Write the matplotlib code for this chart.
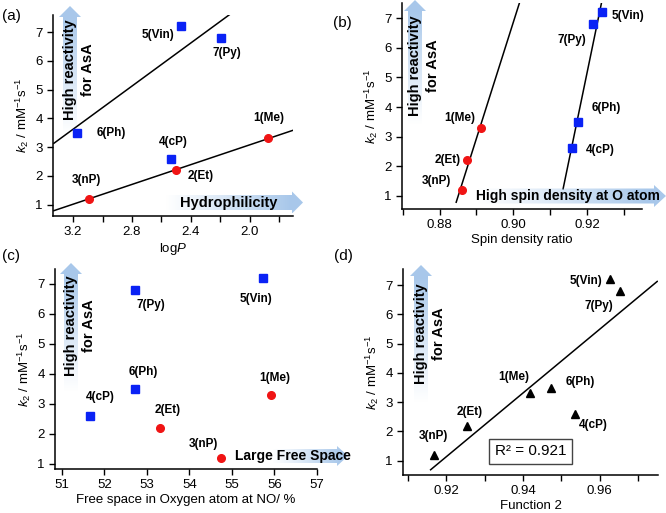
import numpy as np
import matplotlib
matplotlib.use("Agg")
import matplotlib.pyplot as plt
from matplotlib.patches import Polygon
from matplotlib.ticker import MultipleLocator

plt.rcParams['font.family'] = ['Liberation Sans', 'DejaVu Sans']
plt.rcParams['mathtext.fontset'] = 'custom'
plt.rcParams['mathtext.rm'] = 'Liberation Sans'
plt.rcParams['mathtext.it'] = 'Liberation Sans:italic'

# ---------------- data ----------------
labels = ['1(Me)', '2(Et)', '3(nP)', '4(cP)', '5(Vin)', '6(Ph)', '7(Py)']
k2 = [3.3, 2.2, 1.2, 2.6, 7.2, 3.5, 6.8]
logP = [1.875, 2.504, 3.093, 2.536, 2.464, 3.173, 2.197]
spin_ratio = [0.8911, 0.8874, 0.8861, 0.9159, 0.9241, 0.9175, 0.9216]
free_space = [55.91, 53.30, 54.74, 51.67, 55.72, 52.71, 52.71]
function2 = [0.9419, 0.9255, 0.9169, 0.9536, 0.9626, 0.9474, 0.9652]
red_idx = [0, 1, 2]
blue_idx = [3, 4, 5, 6]
r2_text = 'R² = 0.921'

BLUE = '#0a22f5'
RED = '#f01414'

W, H = 666, 513
fig = plt.figure(figsize=(W / 100, H / 100), dpi=100)


def px_axes(l, r, t, b):
    return fig.add_axes([l / W, 1 - b / H, (r - l) / W, (b - t) / H])


def style(ax):
    for s in ['top', 'right']:
        ax.spines[s].set_visible(False)
    for s in ['left', 'bottom']:
        ax.spines[s].set_linewidth(1.1)
    ax.tick_params(axis='both', which='both', direction='out', labelsize=9.5,
                   width=1.0, length=4)
    ax.tick_params(axis='x', which='minor', length=4)
    ax.yaxis.set_major_locator(MultipleLocator(1))
    ax.set_ylabel(r'$k_2$ / mM$^{-1}$s$^{-1}$', fontsize=9.5, labelpad=3)


def label_points(ax, xs, offsets):
    for i, lab in enumerate(labels):
        dx, dy = offsets[lab]
        ax.annotate(lab, (xs[i], k2[i]), xytext=(dx / 1.389, -dy / 1.389),
                    textcoords='offset points', ha='center', va='center',
                    fontsize=8.5, fontweight='bold')


def scatter_rb(ax, xs):
    ax.plot([xs[i] for i in blue_idx], [k2[i] for i in blue_idx], 's',
            color=BLUE, ms=5.5, zorder=5, clip_on=False)
    ax.plot([xs[i] for i in red_idx], [k2[i] for i in red_idx], 'o',
            color=RED, ms=5.5, zorder=5, clip_on=False)


def fit_line(ax, xs, idx, xr):
    p = np.polyfit([xs[i] for i in idx], [k2[i] for i in idx], 1)
    xx = np.array(xr)
    ax.plot(xx, np.polyval(p, xx), color='black', lw=1.1, zorder=3)
    return p


# ---- (a) ----
axa = px_axes(53, 293, 15, 216)
style(axa)
axa.set_xlim(3.336, 1.707)
axa.set_ylim(0.6, 7.6)
axa.xaxis.set_major_locator(MultipleLocator(0.4))
axa.xaxis.set_minor_locator(MultipleLocator(0.2))
axa.set_xticks([3.2, 2.8, 2.4, 2.0])
axa.set_xticklabels(['3.2', '2.8', '2.4', '2.0'])
axa.set_xlabel(r'log$P$', fontsize=9.5, labelpad=2)
fit_line(axa, logP, [4, 5, 6], [3.33, 2.134])
fit_line(axa, logP, red_idx, [3.33, 1.70])
scatter_rb(axa, logP)
label_points(axa, logP, {'5(Vin)': (-23, 9), '7(Py)': (6, 15), '6(Ph)': (34, 0),
                         '4(cP)': (2, -17), '2(Et)': (25, 6), '1(Me)': (1, -20),
                         '3(nP)': (-2, -19)})

# ---- (b) ----
axb = px_axes(402, 642, 3, 209)
style(axb)
axb.set_xlim(0.8698, 0.9349)
axb.set_ylim(0.55, 7.52)
axb.xaxis.set_major_locator(MultipleLocator(0.02))
axb.xaxis.set_minor_locator(MultipleLocator(0.01))
axb.set_xticks([0.88, 0.90, 0.92])
axb.set_xticklabels(['0.88', '0.90', '0.92'])
axb.set_xlabel('Spin density ratio', fontsize=9.5, labelpad=2)
fit_line(axb, spin_ratio, red_idx, [0.8845, 0.9025])
fit_line(axb, spin_ratio, blue_idx, [0.9135, 0.9245])
scatter_rb(axb, spin_ratio)
label_points(axb, spin_ratio, {'5(Vin)': (26, 4), '7(Py)': (-21, 16), '6(Ph)': (28, -14),
                               '4(cP)': (28, 2), '1(Me)': (-21, -10), '2(Et)': (-19, 0),
                               '3(nP)': (-26, -9)})

# ---- (c) ----
axc = px_axes(55, 317, 269, 469)
style(axc)
axc.set_xlim(50.84, 57.0)
axc.set_ylim(0.83, 7.49)
axc.xaxis.set_major_locator(MultipleLocator(1))
axc.set_xlabel('Free space in Oxygen atom at NO/ %', fontsize=9.5, labelpad=2)
scatter_rb(axc, free_space)
label_points(axc, free_space, {'7(Py)': (16, 15), '5(Vin)': (-7, 21), '6(Ph)': (9, -17),
                               '4(cP)': (10, -19), '2(Et)': (8, -18), '1(Me)': (4, -17),
                               '3(nP)': (-17, -14)})

# ---- (d) ----
axd = px_axes(403, 658, 269, 475)
style(axd)
axd.set_xlim(0.9087, 0.9752)
axd.set_ylim(0.51, 7.55)
axd.xaxis.set_major_locator(MultipleLocator(0.02))
axd.xaxis.set_minor_locator(MultipleLocator(0.01))
axd.set_xticks([0.92, 0.94, 0.96])
axd.set_xticklabels(['0.92', '0.94', '0.96'])
axd.set_xlabel('Function 2', fontsize=9.5, labelpad=2)
fit_line(axd, function2, list(range(7)), [0.9159, 0.9750])
axd.plot(function2, k2, '^', color='black', ms=5.5, zorder=5)
label_points(axd, function2, {'5(Vin)': (-24, 2), '7(Py)': (-21, 15), '1(Me)': (-17, -16),
                              '6(Ph)': (29, -6), '4(cP)': (18, 11), '2(Et)': (2, -14),
                              '3(nP)': (-1, -19)})
axd.text(0.50, 0.115, r2_text, transform=axd.transAxes, ha='center', va='center',
         fontsize=11, bbox=dict(boxstyle='square,pad=0.35', fc='white', ec='#444444', lw=1.0),
         zorder=6)

# ---------------- overlay: gradient arrows, panel letters ----------------
ov = fig.add_axes([0, 0, 1, 1], zorder=10)
ov.set_xlim(0, W)
ov.set_ylim(H, 0)
ov.axis('off')
ov.patch.set_alpha(0)

ARROW_RGB = np.array([0.50, 0.68, 0.88])


def grad_arrow(x0, y0, x1, y1, body_w, head_w, head_len, amax=0.68):
    d = np.array([x1 - x0, y1 - y0], float)
    L = np.hypot(*d)
    u = d / L
    n = np.array([-u[1], u[0]])
    p0 = np.array([x0, y0], float)
    hb = p0 + u * (L - head_len)
    pts = [p0 + n * body_w / 2, hb + n * body_w / 2, hb + n * head_w / 2,
           np.array([x1, y1], float), hb - n * head_w / 2, hb - n * body_w / 2,
           p0 - n * body_w / 2]
    poly = Polygon(pts, closed=True, fc='none', ec='none')
    ov.add_patch(poly)
    xs = [p[0] for p in pts]
    ys = [p[1] for p in pts]
    xl, xr, yt, yb = min(xs), max(xs), min(ys), max(ys)
    N = 200
    t = np.linspace(0, 1, N)
    a = amax * np.clip(t * 1.1, 0, 1) ** 1.1
    if abs(u[0]) > abs(u[1]):
        img = np.zeros((1, N, 4))
        img[0, :, :3] = ARROW_RGB
        img[0, :, 3] = a if u[0] > 0 else a[::-1]
    else:
        img = np.zeros((N, 1, 4))
        img[:, 0, :3] = ARROW_RGB
        img[:, 0, 3] = a[::-1] if u[1] < 0 else a
    im = ov.imshow(img, extent=(xl, xr, yb, yt), origin='upper', aspect='auto',
                   interpolation='bilinear', zorder=1)
    im.set_clip_path(poly)


def vtext(xc, yc):
    ov.text(xc, yc, 'High reactivity\nfor AsA', rotation=90, ha='center', va='center',
            fontsize=10.5, fontweight='bold', linespacing=1.3, zorder=3)


# (a)
grad_arrow(70, 135, 70, 6, 14, 22, 11)
vtext(79, 70)
grad_arrow(165, 202.5, 303, 202.5, 15, 22, 11)
ov.text(229, 202.5, 'Hydrophilicity', ha='center', va='center', fontsize=10.5,
        fontweight='bold', zorder=3)
# (b)
grad_arrow(415, 125, 415, 0, 14, 22, 11)
vtext(424, 66)
grad_arrow(476, 196, 666, 196, 15, 22, 12)
ov.text(568, 196, 'High spin density at O atom', ha='center', va='center', fontsize=10,
        fontweight='bold', zorder=3)
# (c)
grad_arrow(71, 392, 71, 263, 14, 22, 11)
vtext(80, 326)
grad_arrow(272, 456, 348, 456, 14, 20, 11)
ov.text(293, 456, 'Large Free Space', ha='center', va='center', fontsize=10,
        fontweight='bold', zorder=3)
# (d)
grad_arrow(421, 403, 421, 265, 14, 22, 11)
vtext(430, 334)

# panel letters
for txt, x, y in [('(a)', 2, 16), ('(b)', 333, 23), ('(c)', 2, 256), ('(d)', 334, 256)]:
    ov.text(x, y, txt, ha='left', va='center', fontsize=11, zorder=3)

fig.savefig('out.png', dpi=100)
